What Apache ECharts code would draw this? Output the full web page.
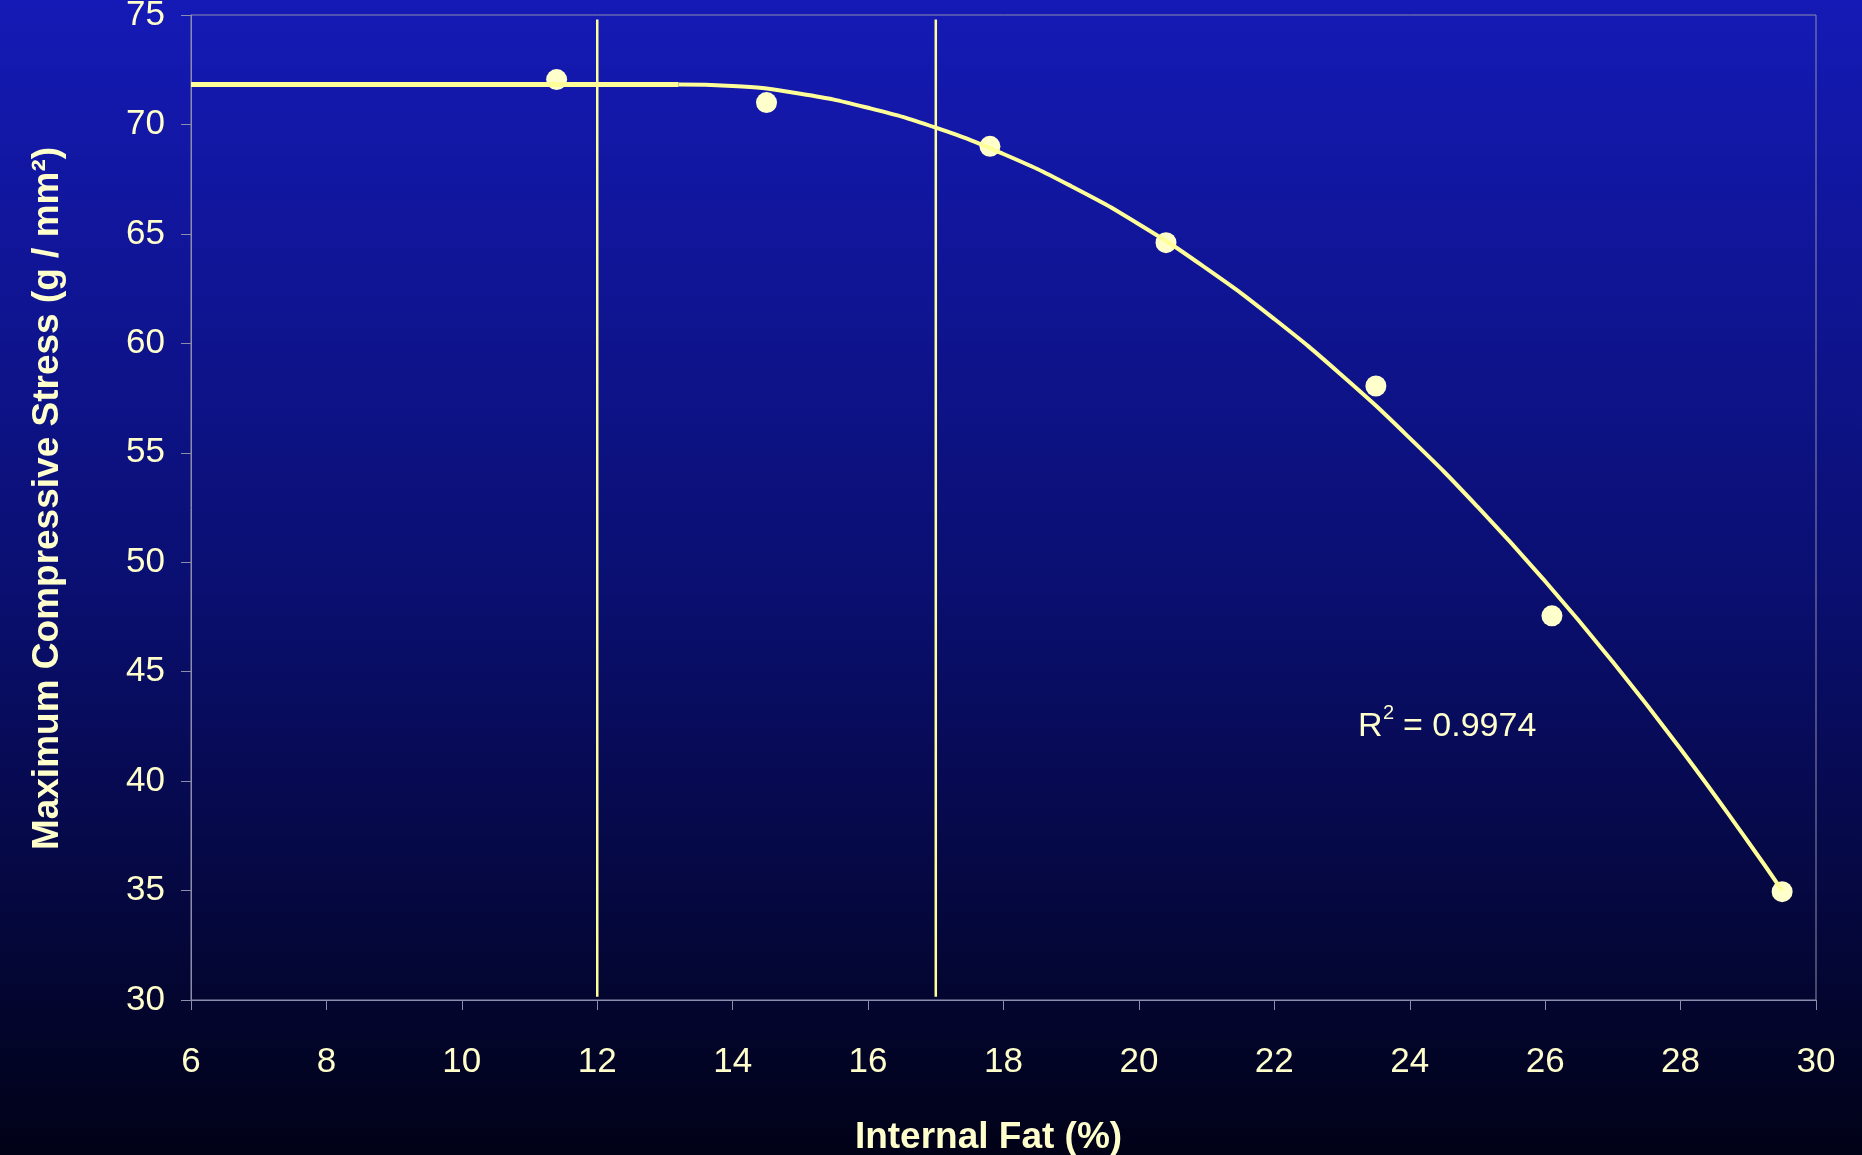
<!DOCTYPE html>
<html>
<head>
<meta charset="utf-8">
<script src="https://cdn.jsdelivr.net/npm/echarts@6/dist/echarts.min.js"></script>
<style>
html,body{margin:0;padding:0;width:1862px;height:1155px;overflow:hidden;}
#chart{width:1862px;height:1155px;}
</style>
</head>
<body>
<div id="chart"></div>
<script>
// Measured points
const fatPct = [11.4, 14.5, 17.8, 20.4, 23.5, 26.1, 29.5];
const stress = [72.05, 71.0, 69.0, 64.6, 58.05, 47.55, 34.95];

// Fitted trend: plateau then curved decline
const plateauX = [6, 13.2];
const plateauY = [71.82, 71.82];
const curveX = [13.2, 14, 15, 16, 17, 18, 19, 20, 21, 22, 23, 24, 25, 26, 27, 28, 29, 29.5];
const curveY = [71.82, 71.76, 71.4, 70.76, 69.85, 68.65, 67.18, 65.44, 63.41, 61.11, 58.53, 55.67, 52.54, 49.13, 45.44, 41.47, 37.22, 35.0];

// Vertical cut-off lines
const cutoffX = [12, 17];
const cutoffY = [74.8, 30.15];

// Axes
const xTicks = [6, 8, 10, 12, 14, 16, 18, 20, 22, 24, 26, 28, 30];
const yTicks = [30, 35, 40, 45, 50, 55, 60, 65, 70, 75];
const xTitle = 'Internal Fat (%)';
const yTitle = 'Maximum Compressive Stress (g / mm²)';
const r2Text = '= 0.9974';

const txt = '#ffffcc';
const lineCol = '#ffff99';
const axisCol = '#8c8cac';
const FONT = 'Liberation Sans';

const chart = echarts.init(document.getElementById('chart'));

const series = [
  {
    type: 'scatter',
    data: fatPct.map((x, i) => [x, stress[i]]),
    symbol: 'circle',
    symbolSize: 21,
    itemStyle: { color: txt, opacity: 1 },
    z: 2
  },
  {
    type: 'line',
    data: plateauX.map((x, i) => [x, plateauY[i]]),
    showSymbol: false,
    symbol: 'none',
    lineStyle: { color: lineCol, width: 5 },
    z: 3
  },
  {
    type: 'line',
    data: curveX.map((x, i) => [x, curveY[i]]),
    smooth: true,
    showSymbol: false,
    symbol: 'none',
    lineStyle: { color: lineCol, width: 4 },
    z: 3
  }
];
cutoffX.forEach(cx => {
  series.push({
    type: 'line',
    data: cutoffY.map(y => [cx, y]),
    showSymbol: false,
    symbol: 'none',
    lineStyle: { color: lineCol, width: 2.5 },
    z: 3
  });
});

chart.setOption({
  animation: false,
  backgroundColor: new echarts.graphic.LinearGradient(0, 0, 0, 1, [
    { offset: 0, color: '#151ab6' },
    { offset: 0.5, color: '#0a0f72' },
    { offset: 1, color: '#010217' }
  ]),
  grid: {
    left: 191, right: 46, top: 15, bottom: 155,
    containLabel: false,
    outerBoundsMode: 'none',
    show: true, borderColor: axisCol, borderWidth: 1, backgroundColor: 'transparent'
  },
  xAxis: {
    type: 'value',
    min: xTicks[0], max: xTicks[xTicks.length - 1], interval: 2,
    name: xTitle,
    nameLocation: 'middle',
    nameGap: 119,
    nameTextStyle: { color: txt, fontSize: 37, fontWeight: 'bold', fontFamily: FONT, padding: [0, 30, 0, 0] },
    axisLine: { show: true, lineStyle: { color: axisCol, width: 1 } },
    axisTick: { show: true, inside: false, length: 10, lineStyle: { color: axisCol } },
    axisLabel: { color: txt, fontSize: 35, fontFamily: FONT, margin: 45 },
    splitLine: { show: false }
  },
  yAxis: {
    type: 'value',
    min: yTicks[0], max: yTicks[yTicks.length - 1], interval: 5,
    name: yTitle,
    nameLocation: 'middle',
    nameGap: 125,
    nameTextStyle: { color: txt, fontSize: 37, fontWeight: 'bold', fontFamily: FONT, padding: [0, 0, 0, 18] },
    axisLine: { show: true, lineStyle: { color: axisCol, width: 1 } },
    axisTick: { show: true, inside: false, length: 10, lineStyle: { color: axisCol } },
    axisLabel: { color: txt, fontSize: 35, fontFamily: FONT, margin: 26 },
    splitLine: { show: false }
  },
  graphic: [
    { type: 'text', x: 1358, y: 727, style: { text: 'R', fill: txt, font: '34px "Liberation Sans"', verticalAlign: 'middle', align: 'left' } },
    { type: 'text', x: 1383, y: 713, style: { text: '2', fill: txt, font: '20px "Liberation Sans"', verticalAlign: 'middle', align: 'left' } },
    { type: 'text', x: 1403, y: 727, style: { text: r2Text, fill: txt, font: '34px "Liberation Sans"', verticalAlign: 'middle', align: 'left' } }
  ],
  series: series
});
</script>
</body>
</html>
